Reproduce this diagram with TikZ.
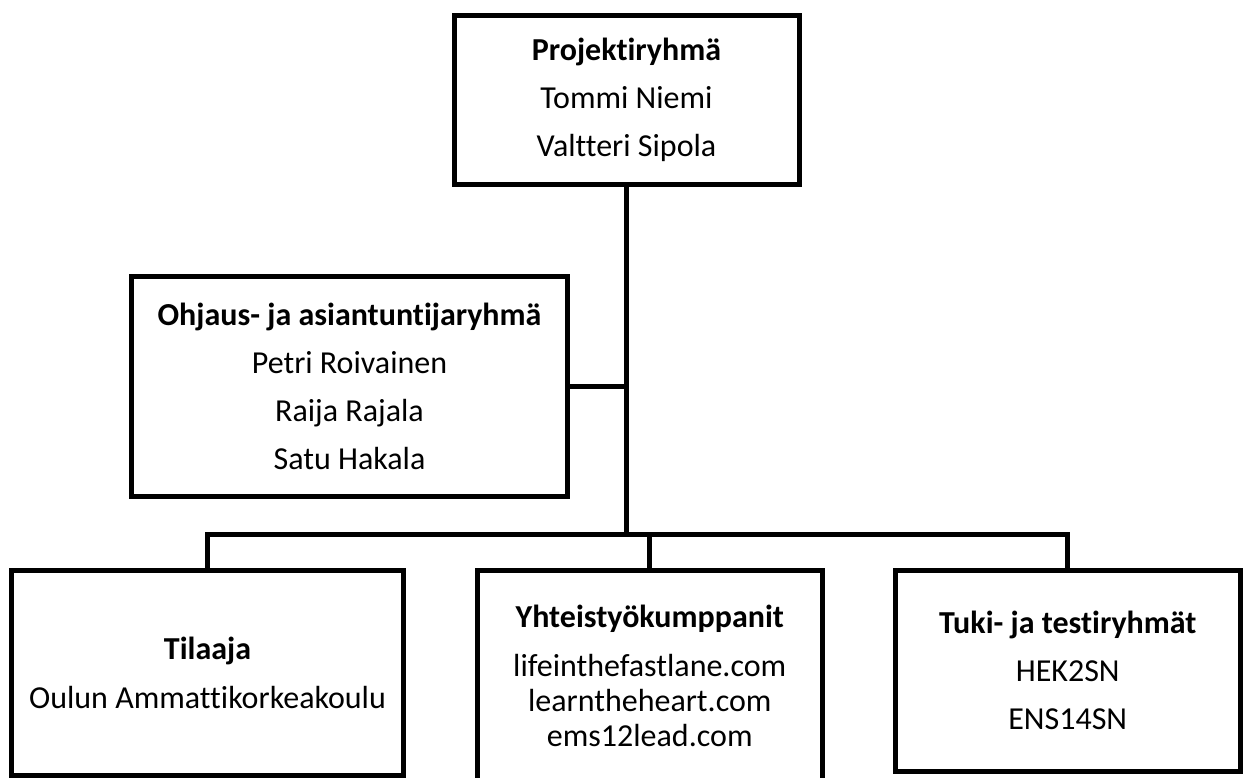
\documentclass[tikz,border=0pt]{standalone}
\usepackage{fontspec}
\setmainfont[Ligatures=NoCommon]{Carlito}
\begin{document}
\begin{tikzpicture}[x=1pt,y=-1pt,
  box/.style={draw=black, line width=5pt, rectangle, inner sep=0pt, outer sep=0pt,
    align=center, font=\fontsize{32}{35}\selectfont},
  conn/.style={draw=black, line width=5pt}]
\useasboundingbox (0,0) rectangle (1245,777);
\node[box, minimum width=345pt, minimum height=169pt] (top) at (626.5,99.5)
  {\textbf{Projektiryhmä}\\[13pt]Tommi Niemi\\[13pt]Valtteri Sipola};
\node[box, minimum width=436pt, minimum height=220pt] (mid) at (349.5,386.5)
  {\textbf{Ohjaus- ja asiantuntijaryhmä}\\[13pt]Petri Roivainen\\[13pt]Raija Rajala\\[13pt]Satu Hakala};
\node[box, minimum width=391.5pt, minimum height=205.5pt] (til) at (207.5,672.75)
  {\textbf{Tilaaja}\\[14pt]Oulun Ammattikorkeakoulu};
\node[box, minimum width=345.5pt, minimum height=212pt] (yht) at (649.75,676)
  {\textbf{Yhteistyökumppanit}\\[14pt]lifeinthefastlane.com\\learntheheart.com\\ems12lead.com};
\node[box, minimum width=345.5pt, minimum height=201pt] (tuki) at (1067.75,670.5)
  {\textbf{Tuki- ja testiryhmät}\\[13pt]HEK2SN\\[13pt]ENS14SN};
\coordinate (bus) at (625.5,534);
\draw[conn] (top.south) -- (top.south |- bus);
\draw[conn] (mid.east) -- (mid.east -| top.south);
\draw[conn] (til.north) |- (bus) -| (tuki.north);
\draw[conn] (yht.north) -- (yht.north |- bus);
\end{tikzpicture}
\end{document}
